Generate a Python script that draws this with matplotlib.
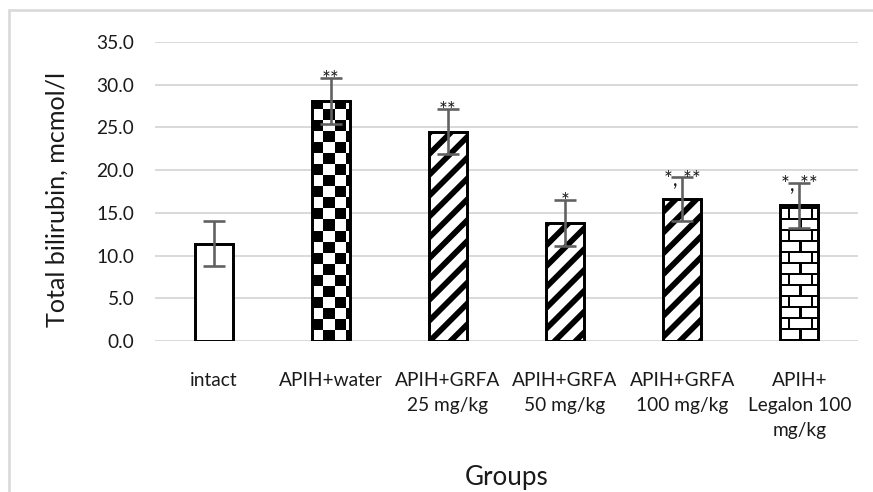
import numpy as np
import matplotlib
matplotlib.use("Agg")
import matplotlib.pyplot as plt
from matplotlib.patches import Rectangle

plt.rcParams['font.family'] = ['Lato', 'DejaVu Sans']
plt.rcParams['hatch.linewidth'] = 3.3

groups = ["intact", "APIH+water", "APIH+GRFA\n25 mg/kg", "APIH+GRFA\n50 mg/kg",
          "APIH+GRFA\n100 mg/kg", "APIH+\nLegalon 100\nmg/kg"]
bilirubin = [11.4, 28.1, 24.5, 13.8, 16.6, 15.9]
errors = [2.65, 2.7, 2.6, 2.65, 2.6, 2.65]
marks = ["", "**", "**", "*", "*, **", "*, **"]
fills = ["plain", "checker", "stripe", "stripe", "stripe", "brick"]

W, H, DPI = 873, 492, 125
fig = plt.figure(figsize=(W / DPI, H / DPI), dpi=DPI)
ax = fig.add_axes([155 / W, 1 - 341 / H, (858 - 155) / W, (341 - 42) / H])
ax.set_xlim(-0.5, len(groups) - 0.5)
ax.set_ylim(0, 35)

# outer chart border (light gray), cut off at right and bottom like the source
fig.add_artist(Rectangle((9 / W, -0.1), 2, 1.1 - 10 / H, transform=fig.transFigure,
                         fill=False, edgecolor="#d9d9d9", lw=1.5))

x = np.arange(len(groups))
bars = ax.bar(x, bilirubin, width=0.325, color="white", edgecolor="black",
              linewidth=1.7, zorder=2)


def texture(bar, kind):
    x0, w, h = bar.get_x(), bar.get_width(), bar.get_height()
    p0 = ax.transData.transform((x0, 0))
    p1 = ax.transData.transform((x0 + w, h))
    wpx, hpx = int(round(p1[0] - p0[0])), int(round(p1[1] - p0[1]))
    yy, xx = np.mgrid[0:hpx, 0:wpx]
    if kind == "checker":
        ink = ((xx // 11 + yy // 11) % 2) == 1
    else:
        row = yy // 11
        offset = np.where(row % 2 == 0, 19, 8)
        ink = ((yy % 11) < 2) | (((xx - offset) % 22) < 2)
    ax.imshow(np.where(ink, 0.0, 1.0), cmap="gray", vmin=0, vmax=1,
              extent=(x0, x0 + w, 0, h), origin="lower", aspect="auto",
              interpolation="nearest", zorder=2.5, clip_path=bar)
    bar.set_facecolor("none")
    bar.set_zorder(3)


for bar, kind in zip(bars, fills):
    if kind == "stripe":
        bar.set_hatch("//")
    elif kind in ("checker", "brick"):
        texture(bar, kind)

ax.set_xlim(-0.5, len(groups) - 0.5)
ax.set_ylim(0, 35)

ax.errorbar(x, bilirubin, yerr=errors, fmt="none", ecolor="#606060",
            elinewidth=1.5, capsize=6.3, capthick=1.5, zorder=4)

for xi, v, e, m in zip(x, bilirubin, errors, marks):
    if m:
        ax.annotate(m, (xi, v + e), xytext=(0, -4.5), textcoords="offset points",
                    ha="center", va="baseline", fontsize=12, color="#1a1a1a", zorder=5)

ax.set_yticks(np.arange(0, 35.1, 5))
ax.set_yticklabels([f"{t:.1f}" for t in np.arange(0, 35.1, 5)])
ax.set_xticks(x)
ax.set_xticklabels(groups, linespacing=1.55)
ax.tick_params(axis="y", length=0, pad=12, labelsize=11, labelcolor="#1a1a1a")
ax.tick_params(axis="x", length=0, pad=18, labelsize=11, labelcolor="#1a1a1a")
for s in ax.spines.values():
    s.set_visible(False)
ax.grid(axis="y", color="#d9d9d9", linewidth=1.1, zorder=0)
ax.set_axisbelow(True)

fig.text(57 / W, 1 - 199 / H, "Total bilirubin, mcmol/l", rotation=90,
         ha="center", va="center", fontsize=14.5, color="#1a1a1a")
fig.text((155 + 858) / 2 / W, 1 - 478 / H, "Groups", ha="center", va="center",
         fontsize=15, color="#1a1a1a")

fig.savefig("out.png", dpi=DPI)
